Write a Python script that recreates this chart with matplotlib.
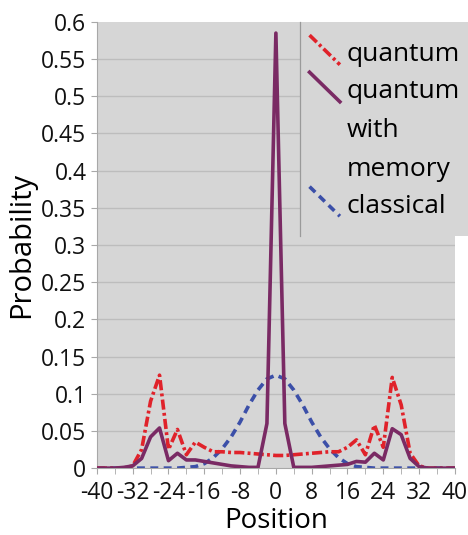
import matplotlib
matplotlib.use('Agg')
import matplotlib.pyplot as plt
from matplotlib.lines import Line2D
from matplotlib.patches import Rectangle
from matplotlib.legend_handler import HandlerLine2D
import numpy as np

# Data
position = list(range(-40, 41, 2))

quantum = [0, 0, 0, 0, 0.003, 0.025, 0.09, 0.125, 0.025, 0.052, 0.018,
           0.035, 0.028, 0.022, 0.022, 0.021, 0.021, 0.02, 0.019, 0.018, 0.017,
           0.017, 0.018, 0.019, 0.02, 0.021, 0.022, 0.022, 0.028, 0.038, 0.018,
           0.058, 0.028, 0.122, 0.085, 0.02, 0.003, 0, 0, 0, 0]

memory = [0, 0, 0, 0.001, 0.003, 0.013, 0.042, 0.054, 0.01, 0.02, 0.011,
          0.011, 0.009, 0.007, 0.005, 0.003, 0.002, 0.001, 0.001, 0.06, 0.585,
          0.06, 0.001, 0.001, 0.001, 0.002, 0.003, 0.004, 0.005, 0.009, 0.008,
          0.02, 0.011, 0.053, 0.045, 0.013, 0.002, 0, 0, 0, 0]

classical = [0, 0, 0, 0, 0, 0, 0, 0, 0, 0, 0.001,
             0.002, 0.006, 0.014, 0.026, 0.042, 0.062, 0.085, 0.105, 0.12, 0.125,
             0.12, 0.105, 0.085, 0.062, 0.042, 0.026, 0.014, 0.006, 0.002, 0.001,
             0, 0, 0, 0, 0, 0, 0, 0, 0, 0]

labels = ['quantum', 'quantum\nwith\nmemory', 'classical']
ytick_labels = ['0', '0.05', '0.1', '0.15', '0.2', '0.25', '0.3', '0.35',
                '0.4', '0.45', '0.5', '0.55', '0.6']

LEG_FS = 19
LINESP = 1.73


class DiagonalHandler(HandlerLine2D):
    # legend key drawn as a slanted line; up (points) lifts it next to the first line
    def __init__(self, up=0, **kw):
        super().__init__(**kw)
        self.up = up

    def create_artists(self, legend, orig_handle, xdescent, ydescent,
                       width, height, fontsize, trans):
        up = self.up
        line = Line2D([-xdescent, -xdescent + width],
                      [-ydescent + height * 1.4 + up, -ydescent - height * 0.2 + up])
        self.update_prop(line, orig_handle, legend)
        line.set_transform(trans)
        return [line]


plt.rcParams['font.family'] = ['Open Sans', 'DejaVu Sans']
plt.rcParams['axes.unicode_minus'] = False

fig = plt.figure(figsize=(4.68, 5.35), dpi=100)
ax = fig.add_axes([0.207, 0.125, 0.765, 0.834])
ax.set_facecolor('#d6d6d6')

l1, = ax.plot(position, quantum, color='#e0222a', lw=2.6,
              dashes=[2.8, 0.9, 0.8, 0.9], zorder=3)
l2, = ax.plot(position, memory, color='#7a2a64', lw=2.6, zorder=4)
l3, = ax.plot(position, classical, color='#3b4fa8', lw=2.6,
              dashes=[2.2, 1.5], zorder=2)

ax.set_xlim(-40, 40)
ax.set_ylim(0, 0.6)
ax.set_xticks(np.arange(-40, 41, 8))
ax.set_xticks(np.arange(-40, 41, 4), minor=True)
ax.set_yticks(np.arange(0, 0.601, 0.05))
ax.set_yticklabels(ytick_labels)
for g in np.arange(0.05, 0.56, 0.05):
    ax.axhline(g, color='#bdbdbd', lw=1, zorder=0.5)

for s in ['top', 'right']:
    ax.spines[s].set_visible(False)
ax.spines['left'].set_color('#a8a8a8')
ax.spines['bottom'].set_color('#a8a8a8')
ax.tick_params(axis='both', which='both', colors='#a8a8a8', labelcolor='#111111',
               labelsize=16.5, length=4)
ax.tick_params(axis='x', which='major', pad=5)

ax.set_xlabel('Position', fontsize=20, labelpad=2)
ax.set_ylabel('Probability', fontsize=21, labelpad=4)

# legend panel: gray block with a thin divider on its left side
ax.add_patch(Rectangle((0.567, 0.52), 0.47, 0.48, transform=ax.transAxes,
                       facecolor='#d6d6d6', edgecolor='none', zorder=8,
                       clip_on=False))
ax.plot([0.567, 0.567], [0.52, 1.0], transform=ax.transAxes, color='#9a9a9a',
        lw=0.9, zorder=9, clip_on=False)

leg = ax.legend([l1, l2, l3], labels, loc='upper left',
                bbox_to_anchor=(0.594, 0.955), frameon=False, fontsize=LEG_FS,
                handler_map={l1: DiagonalHandler(), l2: DiagonalHandler(up=30),
                             l3: DiagonalHandler()},
                handlelength=1.15, handletextpad=0.25, labelspacing=0.45,
                borderpad=0, borderaxespad=0)
for t in leg.get_texts():
    t.set_linespacing(LINESP)
leg.set_zorder(10)

fig.savefig('out.png', dpi=100)
